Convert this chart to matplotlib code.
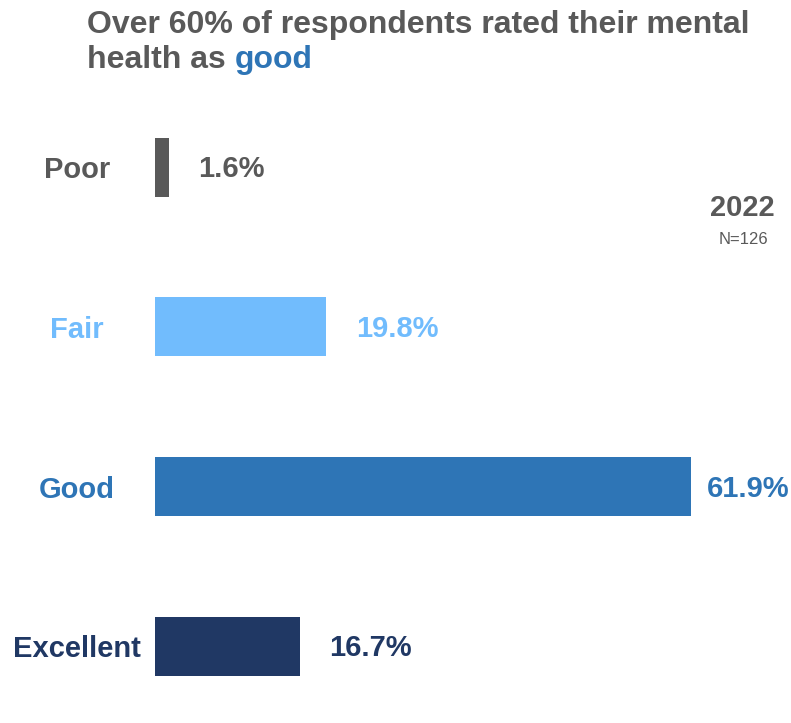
import matplotlib
matplotlib.use("Agg")
import matplotlib.pyplot as plt
from matplotlib.transforms import blended_transform_factory, offset_copy

plt.rcParams['font.family'] = ['Liberation Sans', 'DejaVu Sans']

# survey results, 2022
categories = ['Poor', 'Fair', 'Good', 'Excellent']
shares = [1.6, 19.8, 61.9, 16.7]
year_label = '2022'
sample_label = 'N=126'

colors = ['#595959', '#71bcfd', '#2e75b6', '#203864']
grey = '#595959'

W, H = 791, 723
fig = plt.figure(figsize=(W / 100, H / 100), dpi=100)

# axes: x=0 sits at px 155, ~8.66 px per percent
ax_left = 155 / W
ax = fig.add_axes([ax_left, 0.0, 1 - ax_left, 1 - 87.2 / H])
ax.set_xlim(0, (W - 155) / 8.66)
ax.set_ylim(3.48, -0.5)
ax.axis('off')

ypos = range(len(categories))
ax.barh(ypos, shares, height=0.37, color=colors)

# category labels to the left of the bars, sitting a touch low
lab_tf = offset_copy(blended_transform_factory(fig.transFigure, ax.transData),
                     fig=fig, y=-3, units='dots')
for y, name, c in zip(ypos, categories, colors):
    ax.text(77 / W, y, name, transform=lab_tf, ha='center', va='center',
            fontsize=21, fontweight='bold', color=c)

# value labels, kept inside the figure
val_tf = offset_copy(ax.transData, fig=fig, x=2, y=-2, units='dots')
xmax = ax.get_xlim()[1]
for y, v, c in zip(ypos, shares, colors):
    x = min(v + 3.2, xmax - 10.0)
    ax.text(x, y, f'{v:.1f}%', transform=val_tf, ha='left', va='center',
            fontsize=21, fontweight='bold', color=c)

fig.text(742 / W, 1 - 208 / H, year_label, ha='center', va='center',
         fontsize=21, fontweight='bold', color=grey)
fig.text(743 / W, 1 - 240 / H, sample_label, ha='center', va='center',
         fontsize=12, color=grey)

# two-line title with the last word highlighted
tx = 87 / W
fs = 23
fig.text(tx, 1 - 33 / H, 'Over 60% of respondents rated their mental',
         ha='left', va='baseline', fontsize=fs, fontweight='bold', color=grey)
t2 = fig.text(tx, 1 - 68 / H, 'health as ', ha='left', va='baseline',
              fontsize=fs, fontweight='bold', color=grey)
r = fig.canvas.get_renderer()
bb = t2.get_window_extent(renderer=r)
fig.text(bb.x1 / W, 1 - 68 / H, 'good', ha='left', va='baseline',
         fontsize=fs, fontweight='bold', color='#2e75b6')

fig.savefig('out.png', dpi=100)
